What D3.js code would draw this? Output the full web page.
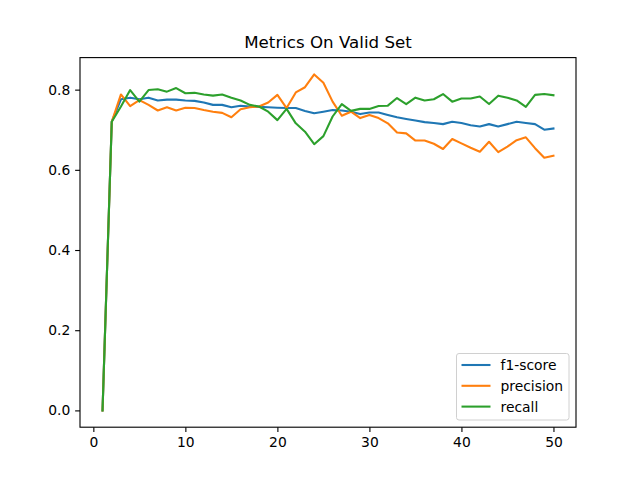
<!DOCTYPE html>
<html>
<head>
<meta charset="utf-8">
<script src="https://cdn.jsdelivr.net/npm/d3@7"></script>
<style>
  body { margin: 0; background: #fff; }
  svg { font-family: "DejaVu Sans", sans-serif; }
</style>
</head>
<body>
<div id="main"></div>
<script>
const epochs = d3.range(1, 51);
const f1 = [0.0, 0.720, 0.776, 0.780, 0.776, 0.780, 0.773, 0.775, 0.775, 0.773,
            0.772, 0.768, 0.762, 0.762, 0.756, 0.760, 0.758, 0.757, 0.756, 0.755,
            0.754, 0.754, 0.747, 0.741, 0.745, 0.749, 0.748, 0.745, 0.739, 0.743,
            0.743, 0.737, 0.731, 0.727, 0.723, 0.719, 0.717, 0.714, 0.720, 0.717,
            0.711, 0.708, 0.714, 0.708, 0.714, 0.720, 0.717, 0.714, 0.700, 0.703];
const precision = [0.0, 0.720, 0.788, 0.759, 0.774, 0.762, 0.748, 0.756, 0.748, 0.755,
                   0.754, 0.749, 0.745, 0.742, 0.731, 0.751, 0.756, 0.758, 0.768, 0.787,
                   0.754, 0.793, 0.806, 0.838, 0.817, 0.770, 0.735, 0.745, 0.729, 0.737,
                   0.729, 0.716, 0.693, 0.691, 0.673, 0.673, 0.665, 0.652, 0.677, 0.666,
                   0.655, 0.645, 0.670, 0.644, 0.658, 0.674, 0.681, 0.654, 0.630, 0.635];
const recall = [0.0, 0.720, 0.758, 0.799, 0.770, 0.799, 0.801, 0.795, 0.804, 0.791,
                0.792, 0.788, 0.785, 0.788, 0.780, 0.773, 0.762, 0.758, 0.745, 0.724,
                0.752, 0.716, 0.695, 0.664, 0.684, 0.733, 0.764, 0.747, 0.752, 0.752,
                0.759, 0.760, 0.779, 0.764, 0.780, 0.773, 0.776, 0.789, 0.770, 0.778,
                0.778, 0.783, 0.764, 0.785, 0.780, 0.773, 0.757, 0.787, 0.789, 0.786];
const seriesNames = ["f1-score", "precision", "recall"];
const colors = ["#1f77b4", "#ff7f0e", "#2ca02c"];
const xTicks = [0, 10, 20, 30, 40, 50];
const yTicks = [0.0, 0.2, 0.4, 0.6, 0.8];

const w = 640, h = 480;
const margin = {top: 57.6, right: 64, bottom: 52.8, left: 80};
const pt = 100 / 72; // matplotlib points -> px at dpi 100

const svg = d3.select("#main").append("svg")
  .attr("width", w)
  .attr("height", h);

const x = d3.scaleLinear()
  .domain([1 - 49 * 0.05, 50 + 49 * 0.05])
  .range([margin.left, w - margin.right]);

const yMax = 0.838;
const y = d3.scaleLinear()
  .domain([-yMax * 0.05, yMax * 1.05])
  .range([h - margin.bottom, margin.top]);

// title
svg.append("text")
  .attr("x", (margin.left + w - margin.right) / 2)
  .attr("y", margin.top - 6 * pt - 1)
  .attr("text-anchor", "middle")
  .attr("font-size", 12 * pt)
  .text("Metrics On Valid Set");

// axes
const xAxis = svg.append("g")
  .attr("transform", "translate(0," + (h - margin.bottom) + ")")
  .call(d3.axisBottom(x).tickValues(xTicks).tickSize(3.5 * pt).tickPadding(3.5 * pt).tickFormat(d3.format("d")));
const yAxis = svg.append("g")
  .attr("transform", "translate(" + margin.left + ",0)")
  .call(d3.axisLeft(y).tickValues(yTicks).tickSize(3.5 * pt).tickPadding(3.5 * pt).tickFormat(d3.format(".1f")));
[xAxis, yAxis].forEach(g => {
  g.select(".domain").remove();
  g.selectAll("line").attr("stroke", "#000").attr("stroke-width", 0.8 * pt);
  g.selectAll("text").attr("font-size", 10 * pt).attr("fill", "#000")
    .attr("font-family", "DejaVu Sans, sans-serif");
});

// lines
const all = [f1, precision, recall];
const line = d3.line()
  .x((d, i) => x(epochs[i]))
  .y(d => y(d));

all.forEach((s, k) => {
  svg.append("path")
    .datum(s)
    .attr("fill", "none")
    .attr("stroke", colors[k])
    .attr("stroke-width", 1.5 * pt)
    .attr("stroke-linejoin", "round")
    .attr("stroke-linecap", "square")
    .attr("d", line);
});

// frame
svg.append("rect")
  .attr("x", margin.left)
  .attr("y", margin.top)
  .attr("width", w - margin.left - margin.right)
  .attr("height", h - margin.top - margin.bottom)
  .attr("fill", "none")
  .attr("stroke", "#000")
  .attr("stroke-width", 0.8 * pt);

// legend
const legend = svg.append("g").attr("transform", "translate(456.5,353.5)");
legend.append("rect")
  .attr("width", 112.5)
  .attr("height", 66.5)
  .attr("rx", 2.5)
  .attr("fill", "#fff")
  .attr("fill-opacity", 0.8)
  .attr("stroke", "#d0d0d0")
  .attr("stroke-width", 1);
seriesNames.forEach((name, k) => {
  const yy = 11.5 + k * 20.8;
  legend.append("line")
    .attr("x1", 5).attr("x2", 34)
    .attr("y1", yy).attr("y2", yy)
    .attr("stroke", colors[k])
    .attr("stroke-width", 1.5 * pt);
  legend.append("text")
    .attr("x", 44)
    .attr("y", yy + 5)
    .attr("font-size", 10 * pt)
    .text(name);
});
</script>
</body>
</html>
